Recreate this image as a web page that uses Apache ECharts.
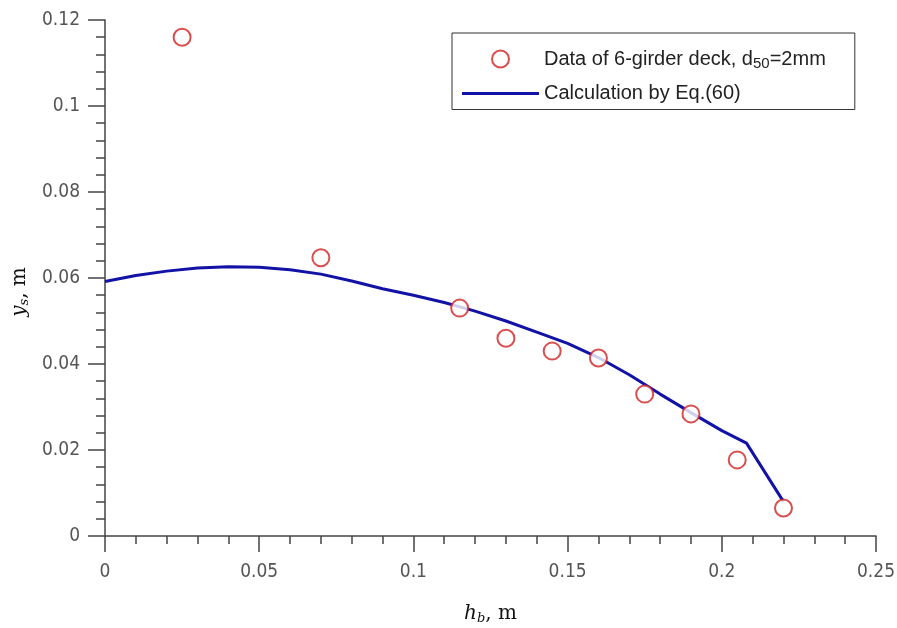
<!DOCTYPE html>
<html>
<head>
<meta charset="utf-8">
<script src="https://cdn.jsdelivr.net/npm/echarts@6/dist/echarts.min.js"></script>
<style>html,body{margin:0;padding:0;background:#fff}#c{width:897px;height:628px}</style>
</head>
<body>
<div id="c"></div>
<script>
// Measured data (6-girder deck, d50 = 2 mm)
const dataX = [0.025, 0.07, 0.115, 0.13, 0.145, 0.16, 0.175, 0.19, 0.205, 0.22];
const dataY = [0.116, 0.0647, 0.053, 0.046, 0.043, 0.0414, 0.033, 0.0284, 0.0177, 0.0065];
// Calculation by Eq.(60)
const calcX = [0, 0.01, 0.02, 0.03, 0.04, 0.05, 0.06, 0.07, 0.08, 0.09, 0.10, 0.11, 0.12, 0.13, 0.14, 0.15, 0.16, 0.17, 0.18, 0.19, 0.20, 0.208, 0.22];
const calcY = [0.0592, 0.0606, 0.0616, 0.0623, 0.0626, 0.0625, 0.0619, 0.0609, 0.0593, 0.0575, 0.0560, 0.0543, 0.0523, 0.0500, 0.0474, 0.0448, 0.0415, 0.0375, 0.0330, 0.0287, 0.0245, 0.0216, 0.0080];
const xTicks = { min: 0, max: 0.25, interval: 0.05 };
const yTicks = { min: 0, max: 0.12, interval: 0.02 };
const seriesNames = ['Data of 6-girder deck, d50=2mm', 'Calculation by Eq.(60)'];

const chart = echarts.init(document.getElementById('c'), null, { renderer: 'canvas' });
const tickFont = { fontFamily: 'DejaVu Sans Condensed, DejaVu Sans, sans-serif', fontSize: 19, color: '#555' };
const axisCol = '#444';
const nameRich = {
  i: { fontFamily: 'DejaVu Serif, Liberation Serif, serif', fontStyle: 'italic', fontSize: 20, color: '#111' },
  s: { fontFamily: 'DejaVu Serif, Liberation Serif, serif', fontStyle: 'italic', fontSize: 13, color: '#111', padding: [10, 0, 0, 0] },
  n: { fontFamily: 'DejaVu Serif, Liberation Serif, serif', fontSize: 20, color: '#111' }
};
const lineColor = '#1212a6';
const dotColor = '#cf2222';
chart.setOption({
  animation: false,
  backgroundColor: '#fff',
  grid: { left: 105, right: 21, top: 20, bottom: 92, containLabel: false, outerBoundsMode: 'none' },
  legend: {
    orient: 'vertical',
    left: 452, top: 33,
    padding: [16, 29, 6, 10],
    borderColor: '#333', borderWidth: 1,
    itemWidth: 77, itemHeight: 17, itemGap: 12,
    data: [
      { name: seriesNames[0], icon: 'emptyCircle', itemStyle: { color: dotColor, borderColor: dotColor, borderWidth: 2.5 } },
      { name: seriesNames[1], icon: 'path://M0,0 L77,0 L77,3 L0,3 Z', itemStyle: { color: lineColor, borderWidth: 0 } }
    ],
    formatter: function (n) {
      return n === seriesNames[0] ? '{t|Data of 6-girder deck, d}{sub|50}{t|=2mm}' : '{t|' + n + '}';
    },
    textStyle: {
      fontFamily: 'Liberation Sans, Arial, sans-serif', fontSize: 20, color: '#222',
      rich: {
        t: { fontFamily: 'Liberation Sans, Arial, sans-serif', fontSize: 20, color: '#222' },
        sub: { fontFamily: 'Liberation Sans, Arial, sans-serif', fontSize: 15, color: '#222', padding: [10, 0, 0, 0] }
      }
    }
  },
  xAxis: {
    type: 'value', min: xTicks.min, max: xTicks.max, interval: xTicks.interval,
    name: '{i|h}{s|b}{n|, m}', nameLocation: 'middle', nameGap: 66,
    nameTextStyle: { rich: nameRich },
    axisLine: { onZero: false, lineStyle: { color: axisCol, width: 1.5 } },
    axisTick: { length: 16, lineStyle: { color: axisCol, width: 1.5 } },
    minorTick: { show: true, splitNumber: 5, length: 8, lineStyle: { color: axisCol, width: 1.5 } },
    axisLabel: Object.assign({ margin: 27 }, tickFont),
    splitLine: { show: false }
  },
  yAxis: {
    type: 'value', min: yTicks.min, max: yTicks.max, interval: yTicks.interval,
    name: '{i|y}{s|s}{n|, m}', nameLocation: 'middle', nameGap: 66,
    nameTextStyle: { rich: nameRich, padding: [0, 28, 0, 0] },
    axisLine: { onZero: false, lineStyle: { color: axisCol, width: 1.5 } },
    axisTick: { length: 17, lineStyle: { color: axisCol, width: 1.5 } },
    minorTick: { show: true, splitNumber: 5, length: 9, lineStyle: { color: axisCol, width: 1.5 } },
    axisLabel: Object.assign({ margin: 25 }, tickFont),
    splitLine: { show: false }
  },
  series: [
    {
      name: seriesNames[0], type: 'scatter',
      symbol: 'emptyCircle', symbolSize: 17,
      itemStyle: { color: dotColor, borderColor: dotColor, borderWidth: 2.5 },
      data: dataX.map((x, i) => [x, dataY[i]]),
      z: 3
    },
    {
      name: seriesNames[1], type: 'line',
      symbol: 'none', smooth: false,
      lineStyle: { color: lineColor, width: 3 },
      itemStyle: { color: lineColor },
      data: calcX.map((x, i) => [x, calcY[i]]),
      z: 2
    }
  ]
});
</script>
</body>
</html>
